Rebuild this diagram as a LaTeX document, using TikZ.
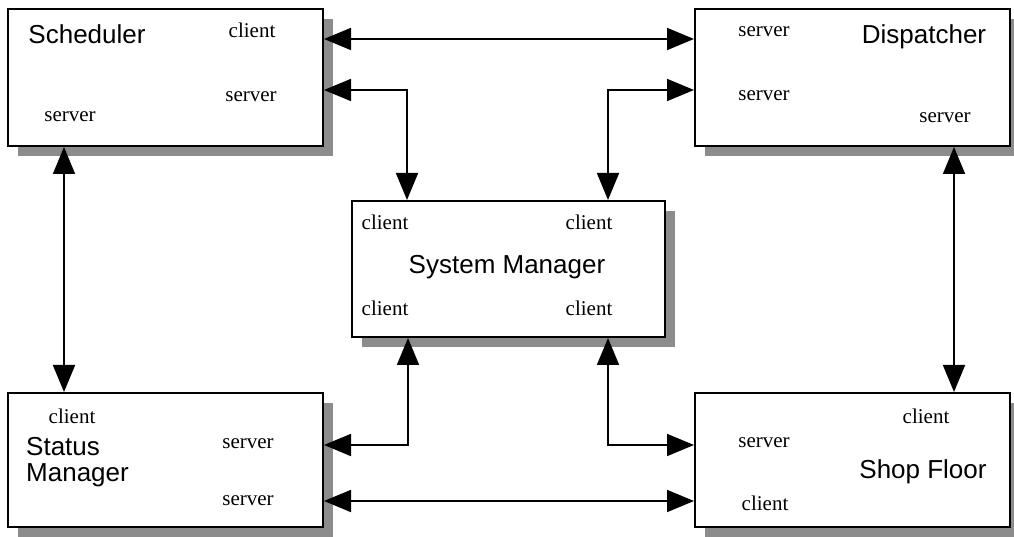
\documentclass[tikz,border=0pt]{standalone}
\usepackage{fontspec}
\setmainfont{Liberation Serif}
\setsansfont{Liberation Sans}
\usetikzlibrary{arrows.meta,shadows}

\begin{document}
\begin{tikzpicture}[x=1pt, y=1pt,
    >={Triangle[length=27pt,width=22pt]},
    module/.style={draw, line width=2pt, fill=white, inner sep=0pt,
        drop shadow={shadow xshift=10pt, shadow yshift=-10pt, fill=black!45, opacity=1}},
    port/.style={anchor=base, inner sep=0pt, font=\fontsize{21}{24}\selectfont},
    title/.style={anchor=base, inner sep=0pt, font=\sffamily\fontsize{26}{30}\selectfont},
    link/.style={<->, line width=1.8pt}]
    \useasboundingbox (0,0) rectangle (1014,537);

    \node[module, minimum width=315pt, minimum height=137pt] (sched) at (165.5,459.5) {};
    \node[module, minimum width=315pt, minimum height=137pt] (disp) at (852.5,459.5) {};
    \node[module, minimum width=313pt, minimum height=136pt] (sm) at (508.5,268) {};
    \node[module, minimum width=315pt, minimum height=134pt] (stat) at (165.5,77) {};
    \node[module, minimum width=315pt, minimum height=134pt] (shop) at (852.5,77) {};

    \node[title] (schedName) at ([shift={(80,-36)}] sched.north west) {Scheduler};
    \node[port] (schedCli) at ([shift={(245,-30)}] sched.north west) {client};
    \node[port] (schedSrvR) at ([shift={(244,-94)}] sched.north west) {server};
    \node[port] (schedSrvB) at ([shift={(63,-114)}] sched.north west) {server};

    \node[title] (dispName) at ([shift={(230,-36)}] disp.north west) {Dispatcher};
    \node[port] (dispSrvT) at ([shift={(70,-29)}] disp.north west) {server};
    \node[port] (dispSrvL) at ([shift={(70,-93)}] disp.north west) {server};
    \node[port] (dispSrvB) at ([shift={(251,-115)}] disp.north west) {server};

    \node[title] (smName) at ([shift={(156,-74)}] sm.north west) {System Manager};
    \node[port] (smCliTL) at ([shift={(34,-30)}] sm.north west) {client};
    \node[port] (smCliTR) at ([shift={(238,-30)}] sm.north west) {client};
    \node[port] (smCliBL) at ([shift={(34,-116)}] sm.north west) {client};
    \node[port] (smCliBR) at ([shift={(238,-116)}] sm.north west) {client};

    \node[title, anchor=base west] (statName) at ([shift={(19,-64)}] stat.north west) {Status};
    \node[title, anchor=base west] (statName2) at ([shift={(19,-90)}] stat.north west) {Manager};
    \node[port] (statCli) at ([shift={(65,-32)}] stat.north west) {client};
    \node[port] (statSrvT) at ([shift={(241,-57)}] stat.north west) {server};
    \node[port] (statSrvB) at ([shift={(241,-114)}] stat.north west) {server};

    \node[title] (shopName) at ([shift={(229,-87)}] shop.north west) {Shop Floor};
    \node[port] (shopCliT) at ([shift={(232,-32)}] shop.north west) {client};
    \node[port] (shopSrv) at ([shift={(70,-56)}] shop.north west) {server};
    \node[port] (shopCliB) at ([shift={(71,-119)}] shop.north west) {client};

    \draw[link] ([yshift=-31]sched.north east) -- ([yshift=-31]disp.north west);
    \draw[link] ([yshift=-82]sched.north east) -| ([xshift=56]sm.north west);
    \draw[link] ([yshift=-82]disp.north west) -| ([xshift=257]sm.north west);
    \draw[link] ([xshift=57]sched.south west) -- ([xshift=57]stat.north west);
    \draw[link] ([xshift=260]disp.south west) -- ([xshift=260]shop.north west);
    \draw[link] ([xshift=57]sm.south west) |- ([yshift=-53]stat.north east);
    \draw[link] ([xshift=257]sm.south west) |- ([yshift=-53]shop.north west);
    \draw[link] ([yshift=-109]stat.north east) -- ([yshift=-109]shop.north west);
\end{tikzpicture}
\end{document}
